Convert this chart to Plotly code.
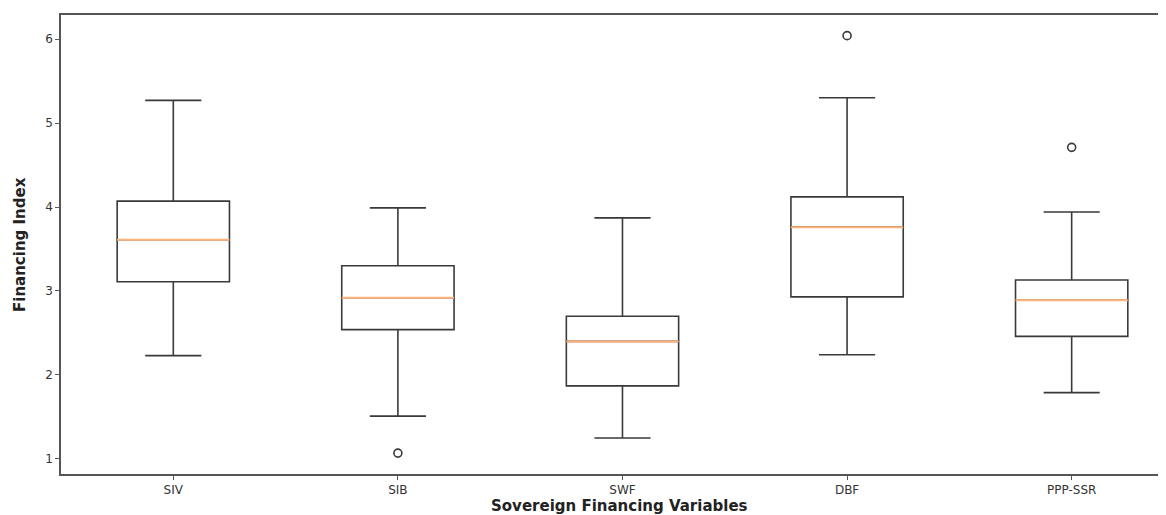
import plotly.graph_objects as go

categories = ["SIV", "SIB", "SWF", "DBF", "PPP-SSR"]
q1 = [3.11, 2.54, 1.87, 2.93, 2.46]
median = [3.61, 2.92, 2.40, 3.76, 2.89]
q3 = [4.07, 3.30, 2.70, 4.12, 3.13]
lower_whisker = [2.23, 1.51, 1.25, 2.24, 1.79]
upper_whisker = [5.27, 3.99, 3.87, 5.30, 3.94]
outlier_cat = ["SIB", "DBF", "PPP-SSR"]
outlier_val = [1.07, 6.04, 4.71]
y_ticks = [1, 2, 3, 4, 5, 6]

positions = list(range(1, len(categories) + 1))
pos_of = dict(zip(categories, positions))

fig = go.Figure()
edge = "#3a3a3a"
for p, a, m, b, lo, hi in zip(positions, q1, median, q3, lower_whisker, upper_whisker):
    fig.add_trace(go.Box(
        x=[p], q1=[a], median=[m], q3=[b], lowerfence=[lo], upperfence=[hi],
        width=0.5, whiskerwidth=0.5, boxpoints=False,
        fillcolor="rgba(0,0,0,0)", line=dict(color=edge, width=1.6),
        showlegend=False, hoverinfo="skip",
    ))

mx, my = [], []
for p, m in zip(positions, median):
    mx += [p - 0.25, p + 0.25, None]
    my += [m, m, None]
fig.add_trace(go.Scatter(x=mx, y=my, mode="lines",
                         line=dict(color="#ffb27a", width=2),
                         showlegend=False, hoverinfo="skip"))

fig.add_trace(go.Scatter(x=[pos_of[c] for c in outlier_cat], y=outlier_val,
                         mode="markers",
                         marker=dict(symbol="circle-open", size=8,
                                     color=edge, line=dict(width=1.6)),
                         showlegend=False))

tickfont = dict(family="DejaVu Sans", size=12, color="#333333")
fig.update_layout(
    width=1158, height=507,
    margin=dict(l=53, r=0, t=7, b=41),
    paper_bgcolor="white", plot_bgcolor="white",
    xaxis=dict(range=[0.5, 5.42], tickvals=positions, ticktext=categories,
               showgrid=False, zeroline=False, showline=True, mirror=True,
               linecolor="#555555", linewidth=1.5, automargin=False,
               ticks="outside", ticklen=4, tickcolor="#555555",
               tickfont=tickfont),
    yaxis=dict(range=[0.821, 6.286], tickvals=y_ticks,
               showgrid=False, zeroline=False, showline=True,
               linecolor="#555555", linewidth=1.5, automargin=False,
               ticks="outside", ticklen=4, tickcolor="#555555",
               tickfont=tickfont),
    annotations=[
        dict(text="Sovereign Financing Variables",
             x=(619 - 61) / 1105, xref="x domain",
             y=-(506 - 474) / 459, yref="y domain", showarrow=False,
             font=dict(family="DejaVu Sans", size=15, color="#222222", weight="bold"),
             xanchor="center", yanchor="middle"),
        dict(text="Financing Index",
             x=-(61 - 20) / 1105, xref="x domain",
             y=(474 - 245) / 459, yref="y domain", showarrow=False,
             font=dict(family="DejaVu Sans", size=15, color="#222222", weight="bold"),
             textangle=-90, xanchor="center", yanchor="middle"),
    ],
)
fig.write_html("out.html")
